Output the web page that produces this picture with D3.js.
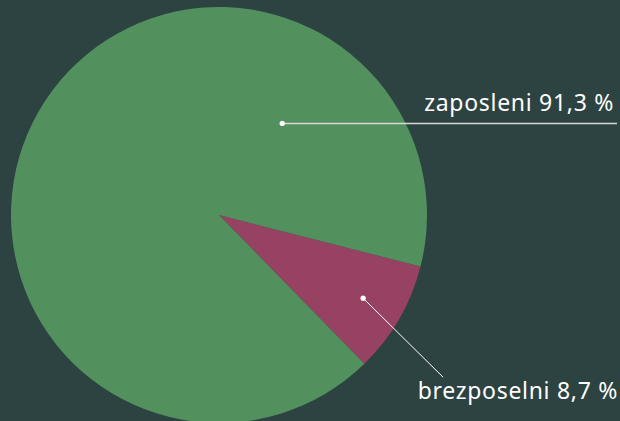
<!DOCTYPE html>
<html>
<head>
<meta charset="utf-8">
<script src="https://cdn.jsdelivr.net/npm/d3@7"></script>
<style>
  html, body { margin: 0; padding: 0; background: #2d4342; }
  svg { display: block; }
</style>
</head>
<body>
<div id="chart"></div>
<script>
// Data
const categories = ['brezposelni', 'zaposleni'];
const shares = [8.7, 91.3];
const labelTexts = ['brezposelni 8,7 %', 'zaposleni 91,3 %'];
const colors = ['#984263', '#52915e'];

const width = 620;
const height = 421;
const cx = 219;
const cy = 215;
const radius = 208;

const svg = d3.select('#chart')
    .append('svg')
    .attr('width', width)
    .attr('height', height)
    .style('background', '#2d4342');

// Pie layout, small slice centred at ~120 degrees
const deg = Math.PI / 180;
const smallSpan = shares[0] / d3.sum(shares) * 2 * Math.PI;
const pie = d3.pie()
    .sort(null)
    .value(d => d)
    .startAngle(120 * deg - smallSpan / 2)
    .endAngle(120 * deg - smallSpan / 2 + 2 * Math.PI);

const arcs = pie(shares);
const arc = d3.arc().innerRadius(0).outerRadius(radius);

const g = svg.append('g').attr('transform', `translate(${cx},${cy})`);

g.selectAll('path')
    .data(arcs)
    .enter().append('path')
    .attr('d', arc)
    .attr('fill', (d, i) => colors[i]);

// Label anchors
const anchor = (angle, r) => [Math.sin(angle) * r, -Math.cos(angle) * r];

// brezposelni: dot at slice centre, diagonal connector, text below
const a0 = arcs[0];
const p0 = anchor((a0.startAngle + a0.endAngle) / 2, radius * 0.8);
const e0 = [p0[0] + 80, p0[1] + 79];

// zaposleni: dot inside upper right, horizontal connector to edge
const p1 = anchor(34.6 * deg, radius * 0.535);
const e1 = [width - 3 - cx, p1[1]];

const labels = svg.append('g').attr('transform', `translate(${cx},${cy})`);

labels.append('line')
    .attr('x1', p1[0]).attr('y1', p1[1])
    .attr('x2', e1[0]).attr('y2', e1[1])
    .attr('stroke', '#d8d8d8')
    .attr('stroke-width', 1.5);

labels.append('line')
    .attr('x1', p0[0]).attr('y1', p0[1])
    .attr('x2', e0[0]).attr('y2', e0[1])
    .attr('stroke', '#ffffff')
    .attr('stroke-width', 1);

labels.selectAll('circle')
    .data([p0, p1])
    .enter().append('circle')
    .attr('cx', d => d[0])
    .attr('cy', d => d[1])
    .attr('r', 2.6)
    .attr('fill', '#ffffff');

const labelFont = (sel) => sel
    .attr('text-anchor', 'end')
    .attr('fill', '#ffffff')
    .style('font-family', '"Noto Sans", sans-serif')
    .style('font-size', '23px')
    .style('letter-spacing', '0.7px');

labels.append('text')
    .attr('x', width - 6 - cx)
    .attr('y', p1[1] - 12)
    .call(labelFont)
    .text(labelTexts[1]);

labels.append('text')
    .attr('x', width - 2 - cx)
    .attr('y', e0[1] + 22)
    .call(labelFont)
    .text(labelTexts[0]);
</script>
</body>
</html>
